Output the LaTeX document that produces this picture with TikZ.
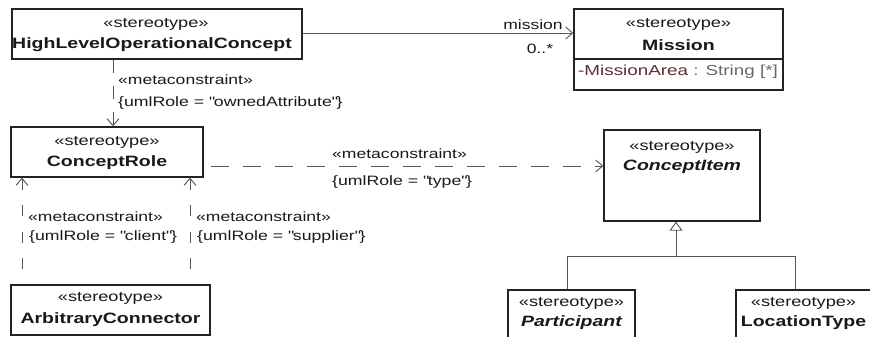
\documentclass[tikz,border=0pt]{standalone}
\usepackage{fontspec}
\setmainfont{Liberation Sans}[FakeStretch=1.3]
\usetikzlibrary{arrows.meta}
\definecolor{boxline}{RGB}{35,35,35}
\definecolor{conn}{RGB}{85,85,85}
\definecolor{txt}{RGB}{25,25,25}
\definecolor{attrname}{RGB}{95,45,50}
\definecolor{attrtype}{RGB}{105,105,105}
\newcommand{\qq}{\textquotedbl}
\tikzset{
  umlbox/.style={draw=boxline, line width=1.4pt, fill=white, inner sep=0pt},
  stereo/.style={text=txt, inner sep=0pt, font=\fontsize{14}{16}\selectfont},
  cname/.style={text=txt, inner sep=0pt, font=\fontsize{15}{17}\selectfont\bfseries},
  cnameit/.style={text=txt, inner sep=0pt, font=\fontsize{15}{17}\selectfont\bfseries\itshape},
  lbl/.style={text=txt, inner sep=0pt, anchor=west, font=\fontsize{13.5}{15}\selectfont},
  small/.style={text=txt, inner sep=0pt, anchor=west, font=\fontsize{13.6}{15}\selectfont},
  attr/.style={inner sep=0pt, anchor=west, font=\fontsize{14.5}{16}\selectfont},
  conline/.style={draw=conn, line width=0.9pt},
  openarrow/.style={-{Straight Barb[length=7pt,width=12pt,line width=0.9pt]}},
  deparrow/.style={conline, openarrow},
  gentip/.style={-{Triangle[open,length=9pt,width=13pt,line width=0.9pt]}}
}
\begin{document}
\begin{tikzpicture}[x=1pt,y=-1pt]
\useasboundingbox (0,0) rectangle (870,337);
\clip (0,0) rectangle (870,337);

% boxes
\node[umlbox, minimum width=290pt, minimum height=50pt] (hloc) at (157,34) {};
\node[stereo] (hlocS) at (156,24) {«stereotype»};
\node[cname] (hlocN) at (152,45) {HighLevelOperationalConcept};

\node[umlbox, minimum width=209pt, minimum height=81pt] (mis) at (678.5,49.5) {};
\node[stereo] (misS) at (678.5,24) {«stereotype»};
\node[cname] (misN) at (678.5,45) {Mission};
\draw[draw=boxline, line width=1.4pt] (mis.west |- 0,59) -- (mis.east |- 0,59);
\node[attr] (misA) at (578,72) {\textcolor{attrname}{-MissionArea}\textcolor{attrtype}{\ : String [*]}};

\node[umlbox, minimum width=192pt, minimum height=50pt] (cr) at (107,152) {};
\node[stereo] (crS) at (107,142) {«stereotype»};
\node[cname] (crN) at (107,163) {ConceptRole};

\node[umlbox, minimum width=156pt, minimum height=91pt] (ci) at (682,175.5) {};
\node[stereo] (ciS) at (682,147) {«stereotype»};
\node[cnameit] (ciN) at (682,167) {ConceptItem};

\node[umlbox, minimum width=127pt, minimum height=60pt] (part) at (571.5,320) {};
\node[stereo] (partS) at (571.5,303) {«stereotype»};
\node[cnameit] (partN) at (571.5,323) {Participant};

\node[umlbox, minimum width=135pt, minimum height=60pt] (lt) at (803.5,320) {};
\node[stereo] (ltS) at (803.5,303) {«stereotype»};
\node[cname] (ltN) at (803.5,323) {LocationType};

\node[umlbox, minimum width=199pt, minimum height=50pt] (ac) at (110.5,310) {};
\node[stereo] (acS) at (110.5,298) {«stereotype»};
\node[cname] (acN) at (110.5,320) {ArbitraryConnector};

% association
\draw[conline, openarrow] (hloc.east |- 0,33) -- (mis.west |- 0,33);
\node[lbl, anchor=center] (lmis) at (533,25) {mission};
\node[lbl, anchor=center] (lmult) at (540,49) {0..*};

% dependency HLOC -> ConceptRole
\draw[deparrow, dash pattern=on 13pt off 13pt] (hloc.south -| 113,0) -- (cr.north -| 113,0);
\node[lbl] (d1a) at (118,80) {«metaconstraint»};
\node[small] (d1b) at (118,103) {\{umlRole = \qq ownedAttribute\qq\}};

% dependency ConceptRole -> ConceptItem
\draw[deparrow, dash pattern=on 18pt off 14pt, dash phase=25pt] (cr.east |- 0,166) -- (ci.west |- 0,166);
\node[lbl] (d2a) at (332,154) {«metaconstraint»};
\node[small] (d2b) at (332,182) {\{umlRole = \qq type\qq\}};

% dependencies ArbitraryConnector -> ConceptRole
\draw[deparrow, dash pattern=on 11pt off 15.5pt, dash phase=11.5pt] (ac.north -| 22,0) -- (cr.south -| 22,0);
\draw[deparrow, dash pattern=on 11pt off 15.5pt, dash phase=11.5pt] (ac.north -| 190,0) -- (cr.south -| 190,0);
\node[lbl] (d3a) at (28,217) {«metaconstraint»};
\node[small] (d3b) at (29,237) {\{umlRole = \qq client\qq\}};
\node[lbl] (d4a) at (196,217) {«metaconstraint»};
\node[small] (d4b) at (197,237) {\{umlRole = \qq supplier\qq\}};

% generalization
\coordinate (gj) at (676,256);
\draw[conline, gentip] (part.north -| 567,0) |- (gj) -- (ci.south -| gj);
\draw[conline] (lt.north -| 795,0) |- (gj);
\end{tikzpicture}
\end{document}
